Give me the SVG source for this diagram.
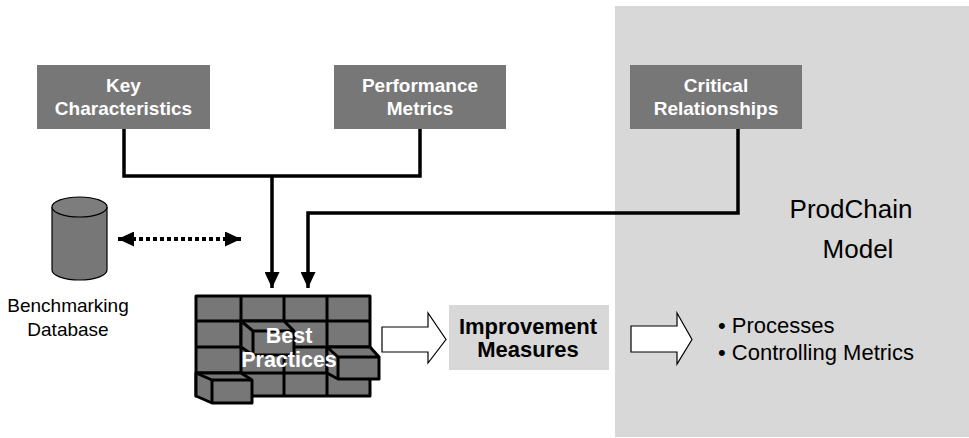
<svg xmlns="http://www.w3.org/2000/svg" width="969" height="438" viewBox="0 0 969 438">
  <style>
    .box { fill: #777777; }
    .boxtxt { font-family: "Liberation Sans", Arial, sans-serif; font-size: 19px; font-weight: bold; fill: #ffffff; text-anchor: middle; }
    .walltxt { font-family: "Liberation Sans", Arial, sans-serif; font-size: 21.5px; font-weight: bold; fill: #ffffff; text-anchor: middle; }
    .txt { font-family: "Liberation Sans", Arial, sans-serif; fill: #000000; }
    .conn { fill: none; stroke: #000000; stroke-width: 3.5; }
    .brick { fill: #777777; stroke: #000000; stroke-width: 3; stroke-linejoin: round; }
    .block { fill: #ffffff; stroke: #000000; stroke-width: 1.2; }
  </style>
  <defs>
    <marker id="head" viewBox="0 0 16 15" refX="16" refY="7.5" markerWidth="16" markerHeight="15" markerUnits="userSpaceOnUse" orient="auto-start-reverse">
      <path d="M0,0 L16,7.5 L0,15 Z" fill="#000000"/>
    </marker>
  </defs>

  <rect width="969" height="438" fill="#ffffff"/>

  <!-- ProdChain model panel -->
  <g id="prodchain-panel">
    <rect x="615" y="6" width="354" height="431" fill="#d8d8d8"/>
    <text class="txt" x="851" y="218" font-size="26" text-anchor="middle">ProdChain</text>
    <text class="txt" x="858" y="258" font-size="26" text-anchor="middle">Model</text>
  </g>

  <!-- connectors -->
  <g id="connectors">
    <path class="conn" d="M124,129 V176 H420 V129"/>
    <path class="conn" d="M272,176 V288" marker-end="url(#head)"/>
    <path class="conn" d="M738,129 V213 H308 V288" marker-end="url(#head)"/>
    <path d="M118,239 H241" fill="none" stroke="#000000" stroke-width="4" stroke-dasharray="4 3" marker-start="url(#head)" marker-end="url(#head)"/>
  </g>

  <g id="key-characteristics">
    <rect class="box" x="37" y="65" width="173" height="64"/>
    <text class="boxtxt" x="123.5" y="92">Key</text>
    <text class="boxtxt" x="123.5" y="115">Characteristics</text>
  </g>

  <g id="performance-metrics">
    <rect class="box" x="334" y="65" width="172" height="64"/>
    <text class="boxtxt" x="420" y="92">Performance</text>
    <text class="boxtxt" x="420" y="115">Metrics</text>
  </g>

  <g id="critical-relationships">
    <rect class="box" x="630" y="65" width="172" height="64"/>
    <text class="boxtxt" x="716" y="92">Critical</text>
    <text class="boxtxt" x="716" y="115">Relationships</text>
  </g>

  <g id="benchmarking-database">
    <path d="M52,207 V270 A27.5,10 0 0 0 107,270 V207" fill="#777777" stroke="#000000" stroke-width="1.2"/>
    <ellipse cx="79.5" cy="207" rx="27.5" ry="10" fill="#7d7d7d" stroke="#000000" stroke-width="1.2"/>
    <text class="txt" x="68" y="312" font-size="19" text-anchor="middle">Benchmarking</text>
    <text class="txt" x="68" y="336" font-size="19" text-anchor="middle">Database</text>
  </g>

  <g id="best-practices">
    <!-- wall with brick grid -->
    <rect class="brick" x="196" y="296" width="174" height="100"/>
    <path d="M196,321 H370 M196,347 H370 M196,373 H370 M241,296 V396 M284,296 V396 M327,296 V396" fill="none" stroke="#000000" stroke-width="3"/>
    <!-- protruding bricks -->
    <path class="brick" d="M241,321 H284 L294,331 V355 H253 L241,347 Z"/>
    <path d="M241,321 L253,331 H294 M253,331 V355" fill="none" stroke="#000000" stroke-width="3" stroke-linejoin="round"/>
    <path class="brick" d="M327,347 H370 L379,357 V379 H338 L327,373 Z"/>
    <path d="M327,347 L338,357 H379 M338,357 V379" fill="none" stroke="#000000" stroke-width="3" stroke-linejoin="round"/>
    <path class="brick" d="M196,373 H241 L252,380 V403 H212 L196,396 Z"/>
    <path d="M196,373 L212,380 H252 M212,380 V403" fill="none" stroke="#000000" stroke-width="3" stroke-linejoin="round"/>
    <text class="walltxt" x="289" y="343">Best</text>
    <text class="walltxt" x="289" y="367">Practices</text>
  </g>

  <g id="arrow-to-measures">
    <path class="block" d="M382,327 H428 V313 L446,339.5 L428,363 V352 H382 Z"/>
  </g>

  <g id="improvement-measures">
    <rect x="449" y="305" width="160" height="65" fill="#d8d8d8"/>
    <text class="txt" x="528" y="334" font-size="22" font-weight="bold" text-anchor="middle">Improvement</text>
    <text class="txt" x="528" y="357" font-size="22" font-weight="bold" text-anchor="middle">Measures</text>
  </g>

  <g id="arrow-to-model">
    <path class="block" d="M631,326 H677 V313 L692,339.5 L677,364 V352 H631 Z"/>
  </g>

  <g id="model-outputs">
    <text class="txt" x="718" y="333" font-size="22">• Processes</text>
    <text class="txt" x="718" y="360" font-size="22">• Controlling Metrics</text>
  </g>
</svg>
